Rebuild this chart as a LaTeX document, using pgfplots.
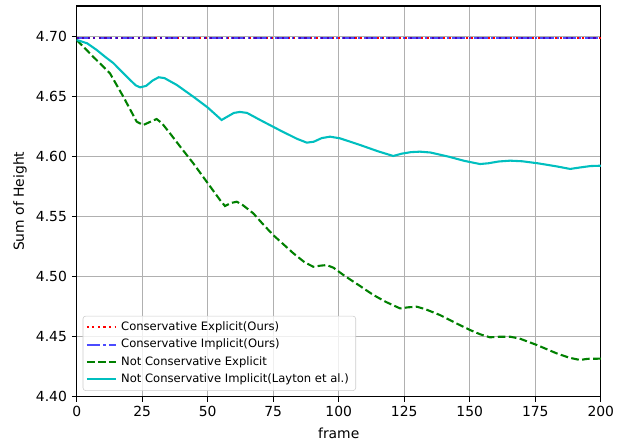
\documentclass[border=0pt]{standalone}
\usepackage{fontspec}
\setmainfont{DejaVu Sans}
\usepackage{pgfplots}
\pgfplotsset{compat=1.18}
\definecolor{mplgreen}{RGB}{0,128,0}
\definecolor{mplcyan}{RGB}{0,191,191}
\definecolor{gridgray}{RGB}{176,176,176}

\begin{document}
\begin{tikzpicture}
\useasboundingbox (-55.2pt,-33.3pt) rectangle (396.9pt,285.6pt);
\begin{axis}[
    at={(0,0)}, anchor=south west,
    scale only axis,
    width=377.3pt, height=281.3pt,
    xmin=0, xmax=200,
    ymin=4.40, ymax=4.7256,
    xtick={0,25,...,200},
    ytick={4.40,4.45,4.50,4.55,4.60,4.65,4.70},
    yticklabel style={/pgf/number format/.cd, fixed, fixed zerofill, precision=2},
    /pgf/number format/assume math mode=true,
    tick label style={font=\fontsize{10}{12}\selectfont},
    tick align=outside,
    tick pos=left,
    major tick length=3.5pt,
    axis line style={line width=0.8pt},
    every tick/.style={black, line width=0.8pt},
    grid=major,
    grid style={gridgray, line width=0.8pt},
    xlabel={frame},
    ylabel={Sum of Height},
    label style={font=\fontsize{10}{12}\selectfont},
    xlabel style={at={(axis description cs:0.5,-0.093)}, anchor=center},
    ylabel style={at={(axis description cs:-0.108,0.5)}, anchor=center},
    legend cell align=left,
    legend style={
        at={(rel axis cs:0.0115,0.015)}, anchor=south west,
        font=\fontsize{8.33}{10}\selectfont,
        draw=black!20, rounded corners=2pt, fill=white, fill opacity=0.8, text opacity=1,
        inner xsep=2pt, inner ysep=1.5pt,
        row sep=-0.5pt,
        nodes={inner ysep=2.6pt, inner xsep=3pt},
    },
    legend image code/.code={\draw[#1] (0pt,0pt) -- (21pt,0pt);},
]
\addplot[red, line width=1.5pt, dash pattern=on 1.5pt off 2.5pt] coordinates {
    (0,4.6987) (200,4.6987)
};
\addlegendentry{Conservative Explicit(Ours)}
\addplot[blue, opacity=0.7, line width=1.5pt, dash pattern=on 9.6pt off 2.4pt on 1.5pt off 2.4pt] coordinates {
    (0,4.6987) (200,4.6987)
};
\addlegendentry{Conservative Implicit(Ours)}
\addplot[mplgreen, line width=1.5pt, dash pattern=on 5.55pt off 2.4pt] coordinates {
    (0,4.6973) (6.3,4.6833) (12.7,4.6695) (17.8,4.6500) (22.9,4.6292) (25.4,4.6264)
    (28,4.6290) (30.5,4.6314) (32.5,4.6280) (35.6,4.6195) (40,4.6070) (44.5,4.5945)
    (50,4.5780) (54.7,4.5639) (56.6,4.5589) (59,4.5615) (61.1,4.5625) (63.5,4.5595)
    (67.4,4.5528) (71,4.5440) (75,4.5347) (82.7,4.5195) (87,4.5120) (90.3,4.5083)
    (93,4.5092) (95.4,4.5097) (98,4.5075) (101.8,4.5014) (108.1,4.4923) (113.2,4.4848)
    (118,4.4790) (123.4,4.4736) (126.5,4.4745) (129.8,4.4750) (133,4.4730) (138.7,4.4680)
    (145,4.4610) (150.1,4.4556) (154,4.4520) (157.7,4.4495) (161.5,4.4500) (165.4,4.4500)
    (169,4.4485) (175.6,4.4431) (183.2,4.4361) (188,4.4325) (192.1,4.4306) (195,4.4316)
    (200,4.4317)
};
\addlegendentry{Not Conservative Explicit}
\addplot[mplcyan, line width=1.5pt] coordinates {
    (0,4.6973) (4,4.6945) (7.6,4.6890) (11,4.6830) (14,4.6780) (19.1,4.6667)
    (22.5,4.6595) (24.2,4.6578) (26.5,4.6590) (29,4.6635) (31.3,4.6662) (33.5,4.6655)
    (38.2,4.6598) (44.5,4.6500) (50,4.6410) (55.3,4.6306) (58,4.6340) (60,4.6365)
    (62.3,4.6373) (65,4.6365) (70,4.6306) (78,4.6215) (84,4.6150) (87.8,4.6117)
    (90.5,4.6125) (93.5,4.6155) (96.7,4.6167) (100.5,4.6153) (108.1,4.6098) (115,4.6045)
    (120.8,4.6006) (124,4.6025) (127.5,4.6038) (131,4.6042) (135,4.6035) (142,4.6000)
    (148,4.5965) (153.9,4.5939) (157,4.5945) (161,4.5960) (165.4,4.5967) (170,4.5962)
    (176,4.5945) (183,4.5920) (188.3,4.5898) (192,4.5910) (196,4.5922) (200,4.5925)
};
\addlegendentry{Not Conservative Implicit(Layton et al.)}
\end{axis}
\end{tikzpicture}
\end{document}
